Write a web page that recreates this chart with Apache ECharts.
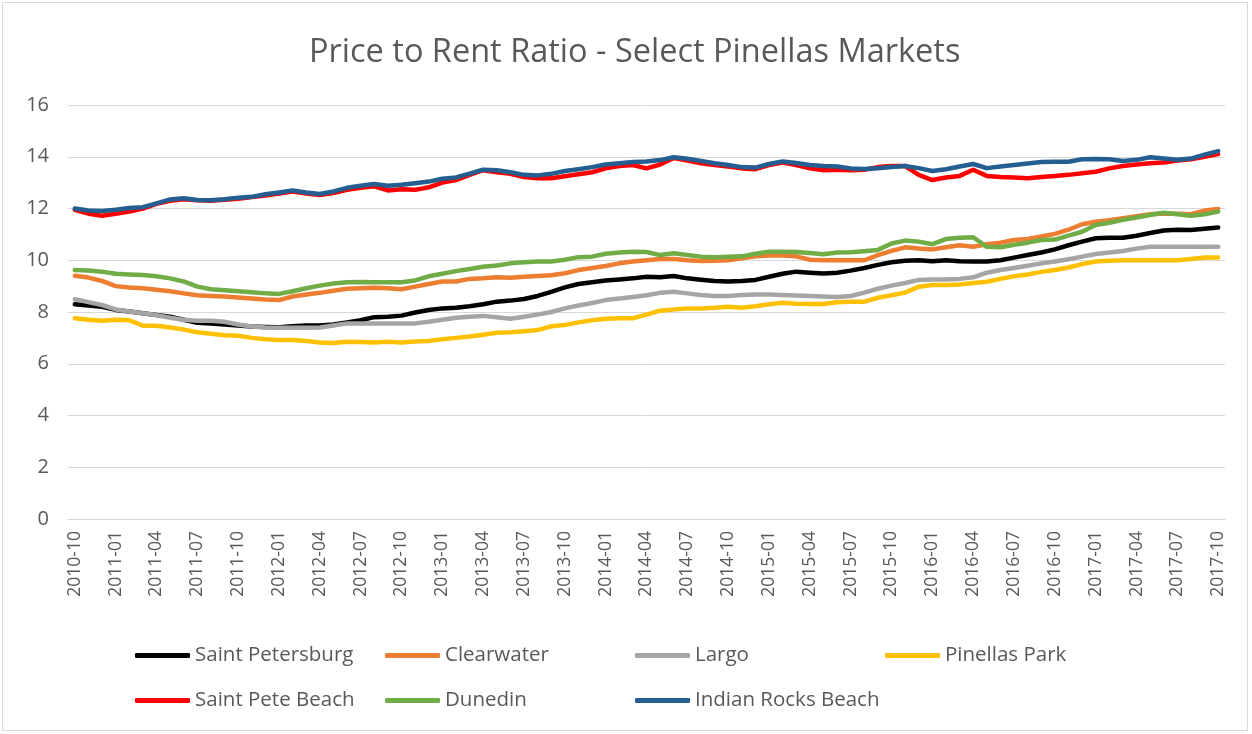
<!DOCTYPE html>
<html>
<head>
<meta charset="utf-8">
<script src="https://cdn.jsdelivr.net/npm/echarts@6/dist/echarts.min.js"></script>
<style>
  html, body { margin: 0; padding: 0; background: #fff; }
  #frame { position: absolute; left: 2px; top: 2px; width: 1246px; height: 729px; border: 1px solid #d9d9d9; box-sizing: border-box; }
  #chart { position: absolute; left: 0; top: 0; width: 1252px; height: 734px; }
</style>
</head>
<body>
<div id="frame"></div>
<div id="chart"></div>
<script>
// months 2010-10 .. 2017-10
const months = []
for (let y = 2010, m = 10; y < 2017 || (y === 2017 && m <= 10); m++) {
  if (m > 12) { m = 1; y++ }
  if (y === 2017 && m > 10) break
  months.push(y + '-' + String(m).padStart(2, '0'))
}

const yTicks = [0, 2, 4, 6, 8, 10, 12, 14, 16]

const saintPetersburg = [8.3, 8.25, 8.2, 8.08, 8.02, 7.95, 7.88, 7.82, 7.7, 7.58, 7.56, 7.52, 7.48, 7.44, 7.42, 7.41, 7.45, 7.48, 7.48, 7.52, 7.6, 7.68, 7.8, 7.82, 7.86, 7.98, 8.08, 8.14, 8.16, 8.22, 8.3, 8.4, 8.44, 8.5, 8.62, 8.78, 8.95, 9.08, 9.15, 9.22, 9.26, 9.3, 9.36, 9.34, 9.39, 9.3, 9.25, 9.2, 9.18, 9.2, 9.24, 9.36, 9.48, 9.56, 9.52, 9.49, 9.52, 9.6, 9.7, 9.82, 9.92, 9.98, 10.0, 9.96, 10.0, 9.96, 9.95, 9.95, 10.0, 10.1, 10.2, 10.3, 10.42, 10.58, 10.72, 10.85, 10.87, 10.87, 10.95, 11.05, 11.15, 11.18, 11.17, 11.22, 11.27]
const clearwater = [9.4, 9.33, 9.2, 9.0, 8.95, 8.92, 8.86, 8.8, 8.72, 8.65, 8.62, 8.6, 8.56, 8.52, 8.48, 8.46, 8.6, 8.68, 8.74, 8.82, 8.9, 8.92, 8.94, 8.92, 8.88, 8.98, 9.08, 9.18, 9.18, 9.28, 9.3, 9.34, 9.32, 9.36, 9.39, 9.42, 9.5, 9.62, 9.7, 9.78, 9.88, 9.95, 10.0, 10.05, 10.05, 10.0, 9.97, 9.98, 10.0, 10.08, 10.15, 10.18, 10.18, 10.15, 10.02, 10.0, 10.0, 10.0, 10.0, 10.2, 10.36, 10.5, 10.45, 10.42, 10.5, 10.58, 10.52, 10.62, 10.68, 10.78, 10.82, 10.92, 11.02, 11.18, 11.39, 11.49, 11.55, 11.62, 11.7, 11.78, 11.81, 11.8, 11.78, 11.92, 11.98]
const largo = [8.49, 8.38, 8.27, 8.1, 8.02, 7.95, 7.88, 7.78, 7.7, 7.66, 7.66, 7.62, 7.52, 7.44, 7.4, 7.39, 7.39, 7.39, 7.4, 7.48, 7.56, 7.56, 7.56, 7.56, 7.56, 7.56, 7.62, 7.7, 7.78, 7.82, 7.85, 7.8, 7.74, 7.82, 7.9, 8.0, 8.14, 8.25, 8.35, 8.46, 8.52, 8.58, 8.65, 8.74, 8.78, 8.72, 8.66, 8.62, 8.62, 8.66, 8.68, 8.68, 8.66, 8.64, 8.62, 8.6, 8.58, 8.62, 8.75, 8.9, 9.02, 9.12, 9.24, 9.26, 9.26, 9.28, 9.34, 9.52, 9.62, 9.7, 9.79, 9.88, 9.95, 10.04, 10.14, 10.24, 10.3, 10.36, 10.45, 10.52, 10.52, 10.52, 10.52, 10.52, 10.52]
const pinellasPark = [7.76, 7.7, 7.66, 7.7, 7.68, 7.47, 7.47, 7.4, 7.32, 7.22, 7.16, 7.1, 7.08, 7.0, 6.95, 6.92, 6.92, 6.88, 6.82, 6.8, 6.85, 6.84, 6.82, 6.85, 6.82, 6.86, 6.88, 6.95, 7.0, 7.05, 7.12, 7.2, 7.22, 7.26, 7.3, 7.45, 7.5, 7.6, 7.68, 7.74, 7.76, 7.76, 7.9, 8.05, 8.1, 8.14, 8.14, 8.16, 8.2, 8.16, 8.22, 8.3, 8.36, 8.32, 8.31, 8.31, 8.38, 8.4, 8.4, 8.55, 8.65, 8.75, 8.98, 9.04, 9.04, 9.06, 9.12, 9.17, 9.28, 9.38, 9.45, 9.55, 9.62, 9.72, 9.85, 9.95, 9.98, 10.0, 10.0, 10.0, 10.0, 10.0, 10.05, 10.11, 10.11]
const saintPeteBeach = [11.95, 11.8, 11.72, 11.8, 11.88, 12.0, 12.18, 12.3, 12.36, 12.32, 12.3, 12.34, 12.38, 12.44, 12.5, 12.58, 12.66, 12.58, 12.52, 12.6, 12.72, 12.8, 12.86, 12.7, 12.74, 12.72, 12.82, 13.0, 13.1, 13.3, 13.48, 13.4, 13.34, 13.22, 13.17, 13.17, 13.25, 13.32, 13.4, 13.55, 13.64, 13.68, 13.55, 13.7, 13.95, 13.85, 13.75, 13.68, 13.62, 13.55, 13.52, 13.68, 13.78, 13.68, 13.55, 13.48, 13.5, 13.48, 13.5, 13.6, 13.64, 13.64, 13.3, 13.1, 13.2, 13.26, 13.5, 13.26, 13.22, 13.2, 13.17, 13.22, 13.26, 13.3, 13.36, 13.42, 13.55, 13.64, 13.7, 13.75, 13.78, 13.85, 13.9, 14.0, 14.1]
const dunedin = [9.62, 9.6, 9.56, 9.48, 9.45, 9.43, 9.38, 9.3, 9.18, 8.98, 8.88, 8.84, 8.8, 8.76, 8.72, 8.7, 8.8, 8.92, 9.02, 9.1, 9.15, 9.16, 9.15, 9.15, 9.15, 9.22, 9.38, 9.48, 9.58, 9.66, 9.75, 9.8, 9.88, 9.92, 9.95, 9.95, 10.02, 10.12, 10.14, 10.25, 10.3, 10.33, 10.32, 10.2, 10.27, 10.2, 10.14, 10.12, 10.14, 10.15, 10.25, 10.33, 10.33, 10.32, 10.28, 10.23, 10.3, 10.31, 10.35, 10.4, 10.65, 10.76, 10.72, 10.62, 10.82, 10.87, 10.89, 10.52, 10.5, 10.6, 10.68, 10.78, 10.8, 10.95, 11.1, 11.36, 11.45, 11.56, 11.65, 11.75, 11.84, 11.78, 11.72, 11.78, 11.88]
const indianRocksBeach = [12.0, 11.92, 11.9, 11.95, 12.02, 12.05, 12.2, 12.35, 12.4, 12.33, 12.32, 12.36, 12.42, 12.45, 12.55, 12.62, 12.7, 12.62, 12.56, 12.66, 12.8, 12.88, 12.95, 12.88, 12.92, 12.98, 13.04, 13.15, 13.2, 13.35, 13.5, 13.48, 13.4, 13.3, 13.28, 13.34, 13.45, 13.52, 13.6, 13.7, 13.75, 13.8, 13.82, 13.87, 13.98, 13.92, 13.84, 13.75, 13.68, 13.6, 13.58, 13.72, 13.82, 13.76, 13.68, 13.64, 13.62, 13.55, 13.53, 13.56, 13.6, 13.64, 13.56, 13.45, 13.52, 13.62, 13.72, 13.56, 13.62, 13.68, 13.74, 13.8, 13.81, 13.81, 13.9, 13.91, 13.9, 13.84, 13.88, 13.98, 13.93, 13.88, 13.93, 14.08, 14.22]

const seriesDefs = [
  { name: 'Saint Petersburg', data: saintPetersburg, color: '#000000' },
  { name: 'Clearwater', data: clearwater, color: '#ed7d31' },
  { name: 'Largo', data: largo, color: '#a5a5a5' },
  { name: 'Pinellas Park', data: pinellasPark, color: '#ffc000' },
  { name: 'Saint Pete Beach', data: saintPeteBeach, color: '#ff0000' },
  { name: 'Dunedin', data: dunedin, color: '#70ad47' },
  { name: 'Indian Rocks Beach', data: indianRocksBeach, color: '#255e91' }
]

const font = '"Open Sans", "Noto Sans", sans-serif'
const textColor = '#595959'

const legendCols = [
  ['Saint Petersburg', 'Saint Pete Beach'],
  ['Clearwater', 'Dunedin'],
  ['Largo', 'Indian Rocks Beach'],
  ['Pinellas Park']
]

const chart = echarts.init(document.getElementById('chart'))
chart.setOption({
  animation: false,
  title: {
    text: 'Price to Rent Ratio - Select Pinellas Markets',
    left: 304,
    top: 31,
    textStyle: { fontFamily: font, fontSize: 32.5, fontWeight: 'normal', color: textColor }
  },
  legend: legendCols.map((col, i) => ({
    orient: 'vertical',
    left: 130 + i * 250,
    top: 640,
    itemGap: 24,
    itemWidth: 55,
    itemHeight: 5,
    icon: 'roundRect',
    data: col,
    textStyle: { fontFamily: font, fontSize: 20.5, color: textColor }
  })),
  grid: { left: 68, right: 27, top: 105, bottom: 215 },
  xAxis: {
    type: 'category',
    data: months,
    boundaryGap: true,
    axisLine: { lineStyle: { color: '#d9d9d9', width: 1 } },
    axisTick: { show: false },
    axisLabel: {
      interval: 2,
      rotate: 90,
      margin: 12,
      fontFamily: font,
      fontSize: 17.5,
      color: textColor
    }
  },
  yAxis: {
    type: 'value',
    min: yTicks[0],
    max: yTicks[yTicks.length - 1],
    interval: 2,
    axisLine: { show: false },
    axisTick: { show: false },
    splitLine: { lineStyle: { color: '#d9d9d9', width: 1 } },
    axisLabel: { fontFamily: font, fontSize: 20, color: textColor, margin: 19 }
  },
  series: seriesDefs.map(s => ({
    name: s.name,
    type: 'line',
    data: s.data,
    showSymbol: false,
    symbol: 'none',
    lineStyle: { color: s.color, width: 4.5, cap: 'round', join: 'round' },
    itemStyle: { color: s.color }
  }))
})
</script>
</body>
</html>
